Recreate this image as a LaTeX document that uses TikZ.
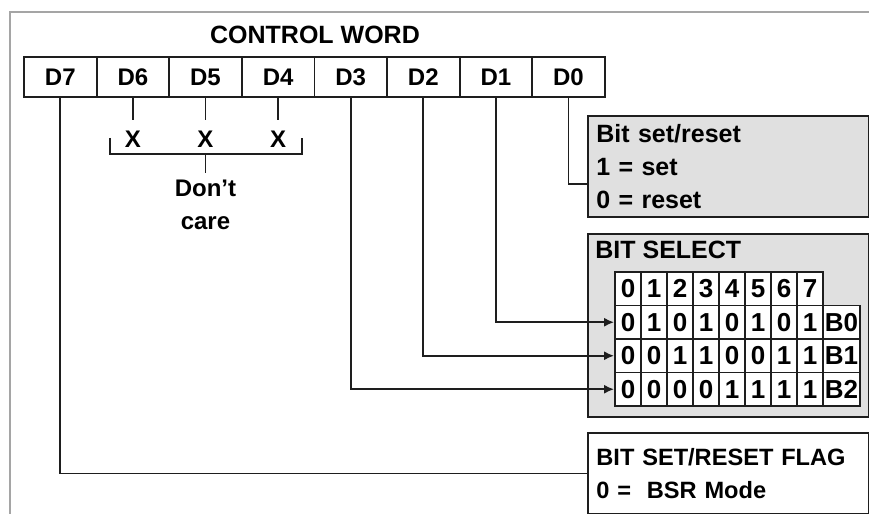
\documentclass[tikz,border=0pt]{standalone}
\usepackage{fontspec}
\setmainfont{Liberation Sans}
\usetikzlibrary{arrows.meta, positioning, calc}
\definecolor{boxgray}{RGB}{224,224,224}
\definecolor{framegray}{RGB}{165,165,165}
\definecolor{ink}{RGB}{30,30,30}
\tikzset{
  bitcell/.style={
    draw=ink,
    line width=0.9pt,
    minimum width=36.3pt,
    minimum height=20pt,
    inner sep=0pt,
    font=\bfseries\fontsize{12}{14}\selectfont
  },
  tcell/.style={bitcell, fill=white, minimum width=13pt, minimum height=16.75pt,
    font=\bfseries\fontsize{13}{14}\selectfont},
  infobox/.style={
    draw=ink,
    line width=0.9pt,
    anchor=north west,
    align=left,
    inner xsep=4pt,
    inner ysep=0pt,
    minimum width=140.5pt,
    text width=132pt,
    font=\bfseries\fontsize{12.5}{16.5}\selectfont
  },
  graybox/.style={infobox, fill=boxgray},
  lbl/.style={inner sep=0pt, font=\bfseries\fontsize{12}{16.5}\selectfont},
  wire/.style={draw=ink, line width=0.9pt},
  arr/.style={wire, -{Latex[length=5pt,width=4.5pt]}}
}

\begin{document}
\begin{tikzpicture}[x=0.5pt, y=-0.5pt]
\useasboundingbox (0,0) rectangle (869,514);

% outer frame
\draw[framegray, line width=0.8pt] (10,514) -- (10,12) -- (869,12);

% Control word register
\node[lbl, font=\bfseries\fontsize{12.5}{14}\selectfont] (title) at (315,35) {CONTROL WORD};
\foreach \b [count=\i from 0] in {7,...,0}
  \node[bitcell] (d\b) at ({24+72.6*(\i+0.5)},77) {D\b};

% Don't care bits
\foreach \b in {6,5,4} {
  \path (d\b.south) ++(0,41) node[lbl, inner ysep=5pt] (x\b) {X};
  \draw[wire] (d\b.south) -- (x\b.north);
}
\draw[wire] ($(x6.center)+(-23,-1)$) |- ($(x5.center)+(0,15)$) coordinate (brk)
  -| ($(x4.center)+(24,-1)$);
\node[lbl, align=center, anchor=north, inner ysep=3.5pt] (dontcare) at ($(brk)+(0,19)$) {Don't\\care};
\draw[wire] (brk) -- (dontcare);

% Bit set/reset
\node[graybox, minimum height=50.5pt] (bsr) at (587,115) {Bit set/reset\\1 = set\\0 = reset};
\draw[wire] (d0.south) |- ($(bsr.west)+(0,17.5)$);

% Bit select table
\node[graybox, minimum height=91.5pt] (bitsel) at (587,233) {};
\node[lbl, anchor=west, font=\bfseries\fontsize{12.5}{14}\selectfont] (bitseltitle) at ($(bitsel.north west)+(8,17)$) {BIT SELECT};
\foreach \j in {0,...,7}
  \node[tcell] (h\j) at ({615+26*(\j+0.5)},288.75) {\j};
\foreach \r/\bits in {0/{0,1,0,1,0,1,0,1}, 1/{0,0,1,1,0,0,1,1}, 2/{0,0,0,0,1,1,1,1}} {
  \foreach \v [count=\j from 0] in \bits
    \node[tcell] (b\r-\j) at ({615+26*(\j+0.5)},{322.25+33.5*\r}) {\v};
  \node[tcell, minimum width=18.5pt] (b\r-b) at (841.5,{322.25+33.5*\r}) {B\r};
}
\draw[arr] (d1.south) |- (b0-0.west);
\draw[arr] (d2.south) |- (b1-0.west);
\draw[arr] (d3.south) |- (b2-0.west);

% Mode flag
\node[infobox, fill=white, minimum height=40.5pt, font=\bfseries\fontsize{11.8}{16.5}\selectfont] (flag) at (587,432) {BIT SET/RESET FLAG\\0 =\ \ BSR Mode};
\draw[wire] (d7.south) |- (flag.west);

\end{tikzpicture}
\end{document}
